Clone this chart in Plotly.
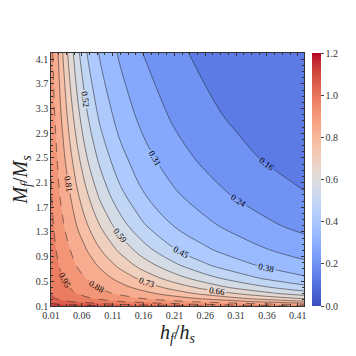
import plotly.graph_objects as go

# ---- data ----
h_vals = [0.01, 0.015, 0.02, 0.03, 0.04, 0.055, 0.07, 0.09, 0.12, 0.16, 0.21, 0.26, 0.31, 0.36, 0.42]
M_vals = [0.1, 0.13, 0.17, 0.22, 0.3, 0.4, 0.55, 0.75, 1.0, 1.4, 1.9, 2.5, 3.2, 4.2]
z_rows = [
    [1.160, 1.156, 1.152, 1.142, 1.133, 1.122, 1.112, 1.101, 1.087, 1.061, 1.036, 1.017, 0.993, 0.973, 0.952],
    [1.103, 1.098, 1.093, 1.081, 1.072, 1.058, 1.048, 1.037, 1.013, 0.987, 0.962, 0.933, 0.909, 0.884, 0.846],
    [1.059, 1.054, 1.045, 1.033, 1.022, 1.008, 0.997, 0.978, 0.952, 0.926, 0.892, 0.863, 0.827, 0.789, 0.747],
    [1.032, 1.023, 1.014, 1.000, 0.988, 0.974, 0.957, 0.935, 0.909, 0.876, 0.839, 0.795, 0.751, 0.707, 0.658],
    [1.014, 1.001, 0.992, 0.976, 0.963, 0.943, 0.921, 0.898, 0.867, 0.829, 0.772, 0.716, 0.664, 0.610, 0.557],
    [1.003, 0.990, 0.979, 0.961, 0.947, 0.918, 0.896, 0.871, 0.832, 0.778, 0.707, 0.640, 0.577, 0.527, 0.471],
    [0.994, 0.980, 0.967, 0.949, 0.923, 0.894, 0.870, 0.836, 0.786, 0.711, 0.625, 0.550, 0.489, 0.437, 0.390],
    [0.986, 0.969, 0.956, 0.926, 0.900, 0.869, 0.836, 0.796, 0.722, 0.633, 0.539, 0.462, 0.407, 0.366, 0.329],
    [0.977, 0.959, 0.942, 0.906, 0.880, 0.838, 0.801, 0.738, 0.654, 0.553, 0.456, 0.391, 0.347, 0.311, 0.275],
    [0.965, 0.944, 0.918, 0.881, 0.844, 0.794, 0.734, 0.661, 0.559, 0.457, 0.375, 0.325, 0.283, 0.248, 0.216],
    [0.954, 0.922, 0.896, 0.850, 0.811, 0.733, 0.664, 0.573, 0.473, 0.382, 0.317, 0.267, 0.228, 0.199, 0.168],
    [0.939, 0.902, 0.875, 0.821, 0.758, 0.669, 0.584, 0.498, 0.403, 0.330, 0.265, 0.219, 0.185, 0.157, 0.137],
    [0.921, 0.884, 0.849, 0.780, 0.704, 0.599, 0.517, 0.430, 0.351, 0.283, 0.222, 0.181, 0.151, 0.132, 0.114],
    [0.901, 0.858, 0.819, 0.725, 0.636, 0.526, 0.440, 0.368, 0.300, 0.233, 0.180, 0.146, 0.123, 0.108, 0.093],
]
x_ticks = [0.01, 0.06, 0.11, 0.16, 0.21, 0.26, 0.31, 0.36, 0.41]
x_tick_labels = ["0.01", "0.06", "0.11", "0.16", "0.21", "0.26", "0.31", "0.36", "0.41"]
y_ticks = [0.1, 0.5, 0.9, 1.3, 1.7, 2.1, 2.5, 2.9, 3.3, 3.7, 4.1]
y_tick_labels = ["0.1", "0.5", "0.9", "1.3", "1.7", "2.1", "2.5", "2.9", "3.3", "3.7", "4.1"]
cbar_ticks = [0.0, 0.2, 0.4, 0.6, 0.8, 1.0, 1.2]

LEVEL_START = 0.1643
LEVEL_SIZE = 0.0712
N_LEVELS = 14
LEVEL_SPLIT = 10  # first dashed level index (0.66)
VMIN, VMAX = 0.0, 1.2

# ---- coolwarm colormap ----
CW = [(59,76,192),(68,90,204),(77,104,215),(87,117,225),(98,130,234),(108,142,241),
      (119,154,247),(130,165,251),(141,176,254),(152,185,255),(163,194,255),(174,201,253),
      (184,208,249),(194,213,244),(204,217,238),(213,219,230),(221,221,221),(229,216,209),
      (236,211,197),(241,204,185),(245,196,173),(247,187,160),(247,177,148),(247,166,135),
      (244,154,123),(241,141,111),(236,127,99),(229,112,88),(222,96,77),(213,80,66),
      (203,62,56),(192,40,47),(180,4,38)]

def cw(t):
    t = min(max(t, 0.0), 1.0) * (len(CW) - 1)
    i = min(int(t), len(CW) - 2)
    f = t - i
    c = [CW[i][k] + (CW[i + 1][k] - CW[i][k]) * f for k in range(3)]
    return "rgb(%d,%d,%d)" % tuple(round(v) for v in c)

cw_scale = [[i / (len(CW) - 1), "rgb(%d,%d,%d)" % c] for i, c in enumerate(CW)]
lo = LEVEL_START - LEVEL_SIZE / 2
fill_scale = [[k / N_LEVELS, cw((lo + k * LEVEL_SIZE - VMIN) / (VMAX - VMIN))] for k in range(N_LEVELS + 1)]

FONT = "Liberation Serif"
LEVEL_END = LEVEL_START + (N_LEVELS - 1) * LEVEL_SIZE
split_val = LEVEL_START + LEVEL_SPLIT * LEVEL_SIZE
label_font = dict(family=FONT, size=9, color="black")

fig = go.Figure()
fig.add_trace(go.Contour(
    x=h_vals, y=M_vals, z=z_rows, colorscale=fill_scale, showscale=False,
    contours=dict(start=LEVEL_START, end=LEVEL_END, size=LEVEL_SIZE, coloring="fill", showlines=False),
    line=dict(width=0), hoverinfo="skip"))
fig.add_trace(go.Contour(
    x=h_vals, y=M_vals, z=z_rows, showscale=False,
    contours=dict(start=LEVEL_START, end=split_val - LEVEL_SIZE, size=LEVEL_SIZE, coloring="none",
                  showlabels=True, labelformat=".2f", labelfont=label_font),
    line=dict(color="rgba(30,30,30,0.85)", width=0.6), hoverinfo="skip"))
fig.add_trace(go.Contour(
    x=h_vals, y=M_vals, z=z_rows, showscale=False,
    contours=dict(start=split_val, end=LEVEL_END, size=LEVEL_SIZE, coloring="none",
                  showlabels=True, labelformat=".2f", labelfont=label_font),
    line=dict(color="rgba(30,30,30,0.85)", width=0.6, dash="dash"), hoverinfo="skip"))
fig.add_trace(go.Scatter(
    x=[None], y=[None], mode="markers", showlegend=False, hoverinfo="skip",
    marker=dict(color=[0], colorscale=cw_scale, cmin=VMIN, cmax=VMAX, showscale=True,
                colorbar=dict(x=1.032, xanchor="left", xpad=0, y=0.5, yanchor="middle", ypad=0,
                              len=1, lenmode="fraction", thickness=9, outlinewidth=0,
                              tickvals=cbar_ticks, ticktext=["%.1f" % v for v in cbar_ticks],
                              ticks="outside", ticklen=3, tickwidth=0.6,
                              tickfont=dict(family=FONT, size=10, color="#333")))))

axis_common = dict(ticks="inside", ticklen=3, tickwidth=0.6, tickcolor="#333",
                   showline=True, linecolor="#333", linewidth=0.6, mirror="allticks",
                   showgrid=False, zeroline=False,
                   tickfont=dict(family=FONT, size=10, color="#333"))
fig.update_xaxes(range=[0.01, 0.42], tickvals=x_ticks, ticktext=x_tick_labels,
                 minor=dict(ticks="inside", ticklen=2, tickcolor="#333", dtick=0.0125, tick0=0.01),
                 title=dict(text="<i>h<sub>f</sub></i>/<i>h<sub>s</sub></i>",
                            font=dict(family=FONT, size=20, color="#222"), standoff=5),
                 **axis_common)
fig.update_yaxes(range=[0.1, 4.2], tickvals=y_ticks, ticktext=y_tick_labels,
                 minor=dict(ticks="inside", ticklen=2, tickcolor="#333", dtick=0.1, tick0=0.1),
                 title=dict(text="<i>M<sub>f</sub></i>/<i>M<sub>s</sub></i>",
                            font=dict(family=FONT, size=20, color="#222"), standoff=2),
                 **axis_common)
fig.update_layout(width=356, height=356, margin=dict(l=43, r=60, t=45, b=58),
                  paper_bgcolor="white", plot_bgcolor="white", showlegend=False)
fig.write_html("out.html")
